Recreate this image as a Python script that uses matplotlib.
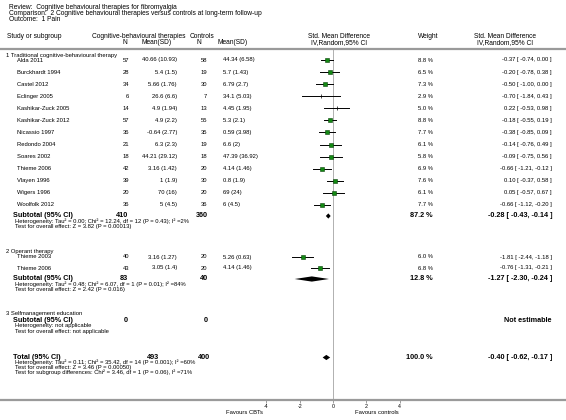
import numpy as np
import matplotlib
matplotlib.use("Agg")
import matplotlib.pyplot as plt

W, H = 566, 420
plt.rcParams['font.family'] = ['Liberation Sans', 'DejaVu Sans']

# %% Daten
review = "Review:  Cognitive behavioural therapies for fibromyalgia"
comparison = "Comparison:  2 Cognitive behavioural therapies versus controls at long-term follow-up"
outcome = "Outcome:  1 Pain"

g1_label = "1 Traditional cognitive-behavioural therapy"
g1_names = ["Alda 2011", "Burckhardt 1994", "Castel 2012", "Eclinger 2005", "Kashikar-Zuck 2005",
            "Kashikar-Zuck 2012", "Nicassio 1997", "Redondo 2004", "Soares 2002", "Thieme 2006",
            "Vlayen 1996", "Wigers 1996", "Woolfolk 2012"]
g1_n1 = [57, 28, 34, 6, 14, 57, 36, 21, 18, 42, 39, 20, 36]
g1_ms1 = ["40.66 (10.93)", "5.4 (1.5)", "5.66 (1.76)", "26.6 (6.6)", "4.9 (1.94)", "4.9 (2.2)",
          "-0.64 (2.77)", "6.3 (2.3)", "44.21 (29.12)", "3.16 (1.42)", "1 (1.9)", "70 (16)", "5 (4.5)"]
g1_n2 = [58, 19, 30, 7, 13, 55, 35, 19, 18, 20, 30, 20, 36]
g1_ms2 = ["44.34 (6.58)", "5.7 (1.43)", "6.79 (2.7)", "34.1 (5.03)", "4.45 (1.95)", "5.3 (2.1)",
          "0.59 (3.98)", "6.6 (2)", "47.39 (36.92)", "4.14 (1.46)", "0.8 (1.9)", "69 (24)", "6 (4.5)"]
g1_w = [8.8, 6.5, 7.3, 2.9, 5.0, 8.8, 7.7, 6.1, 5.8, 6.9, 7.6, 6.1, 7.7]
g1_est = [-0.37, -0.20, -0.50, -0.70, 0.22, -0.18, -0.38, -0.14, -0.09, -0.66, 0.10, 0.05, -0.66]
g1_lo = [-0.74, -0.78, -1.00, -1.84, -0.53, -0.55, -0.85, -0.76, -0.75, -1.21, -0.37, -0.57, -1.12]
g1_hi = [0.00, 0.38, 0.00, 0.43, 0.98, 0.19, 0.09, 0.49, 0.56, -0.12, 0.58, 0.67, -0.20]
g1_sub = (410, 360, 87.2, -0.28, -0.43, -0.14)
g1_het = "Heterogeneity: Tau² = 0.00; Chi² = 12.24, df = 12 (P = 0.43); I² =2%"
g1_test = "Test for overall effect: Z = 3.82 (P = 0.00013)"

g2_label = "2 Operant therapy"
g2_names = ["Thieme 2003", "Thieme 2006"]
g2_n1 = [40, 43]
g2_ms1 = ["3.16 (1.27)", "3.05 (1.4)"]
g2_n2 = [20, 20]
g2_ms2 = ["5.26 (0.63)", "4.14 (1.46)"]
g2_w = [6.0, 6.8]
g2_est = [-1.81, -0.76]
g2_lo = [-2.44, -1.31]
g2_hi = [-1.18, -0.21]
g2_sub = (83, 40, 12.8, -1.27, -2.30, -0.24)
g2_het = "Heterogeneity: Tau² = 0.48; Chi² = 6.07, df = 1 (P = 0.01); I² =84%"
g2_test = "Test for overall effect: Z = 2.42 (P = 0.016)"

g3_label = "3 Selfmanagement education"
g3_het = "Heterogeneity: not applicable"
g3_test = "Test for overall effect: not applicable"

total = (493, 400, 100.0, -0.40, -0.62, -0.17)
total_lines = ["Heterogeneity: Tau² = 0.11; Chi² = 35.42, df = 14 (P = 0.001); I² =60%",
               "Test for overall effect: Z = 3.46 (P = 0.00050)",
               "Test for subgroup differences: Chi² = 3.46, df = 1 (P = 0.06), I² =71%"]
ticks = [-4, -2, 0, 2, 4]

# %% Plot
fig = plt.figure(figsize=(W / 100, H / 100), dpi=100)
FS = 4.2   # Standardschrift
FH = 4.8   # Kopfzeilen
FB = 5.2   # fette Summenzeilen


def txt(x, y, s, ha="left", size=FS, bold=False):
    fig.text(x / W, 1 - y / H, s, ha=ha, va="center", fontsize=size,
             fontweight="bold" if bold else "normal")


x_zero = 333
unit = 16.67
ax = fig.add_axes([0, 1 - 400 / H, 1, (400 - 49) / H])
ax.set_xlim(-x_zero / unit, (W - x_zero) / unit)
ax.set_ylim(400, 49)
for s in ["left", "right"]:
    ax.spines[s].set_visible(False)
for s in ["top", "bottom"]:
    ax.spines[s].set_color("#9a9a9a")
    ax.spines[s].set_linewidth(1.6)
ax.set_yticks([])
ax.set_xticks(ticks)
ax.set_xticklabels([str(t) for t in ticks])
ax.tick_params(axis="x", labelsize=3.8, length=2, width=0.5, color="#777777", pad=1.2)
ax.axvline(0, color="#b0b0b0", lw=0.7, zorder=0)


def fmt_ci(e, l, h):
    return f"{e:.2f} [ {l:.2f}, {h:.2f} ]"


def study(y, name, n1, ms1, n2, ms2, w, e, l, h):
    txt(17, y, name)
    txt(129, y, str(n1), "right")
    txt(177, y, ms1, "right")
    txt(207, y, str(n2), "right")
    txt(223, y, ms2)
    txt(433, y, f"{w:.1f} %", "right")
    txt(552, y, fmt_ci(e, l, h), "right")
    ax.plot([l, h], [y, y], color="black", lw=0.7)
    if w > 5.5:
        ax.plot(e, y, marker="s", ms=1.65 * np.sqrt(w) * 0.72, mfc="#138a13",
                mec="#0b420b", mew=0.4)
    else:
        ax.plot(e, y, marker="|", ms=3, mec="black", mew=0.5)


def diamond(y, e, l, h):
    ax.fill([l, e, h, e], [y, y - 2.6, y, y + 2.6], color="black", lw=0)


def subtotal(y, label, vals, x_n1=128, x_n2=208):
    n1, n2, w, e, l, h = vals
    txt(13, y, label, bold=True, size=FB)
    txt(x_n1, y, str(n1), "right", FB, True)
    txt(x_n2, y, str(n2), "right", FB, True)
    txt(433, y, f"{w:.1f} %", "right", FB, True)
    txt(552, y, fmt_ci(e, l, h), "right", FB, True)
    diamond(y, e, l, h)


# Kopfzeilen
txt(9, 7.5, review, size=FH)
txt(9, 13.5, comparison, size=FH)
txt(9, 19.5, outcome, size=FH)
txt(7, 36, "Study or subgroup", size=FH)
txt(139, 36, "Cognitive-behavioural therapies", "center", FH)
txt(202, 36, "Controls", "center", FH)
txt(339, 36, "Std. Mean Difference", "center", FH)
txt(428, 36, "Weight", "center", FH)
txt(505, 36, "Std. Mean Difference", "center", FH)
txt(125, 42.5, "N", "center", FH)
txt(157, 42.5, "Mean(SD)", "center", FH)
txt(199, 42.5, "N", "center", FH)
txt(233, 42.5, "Mean(SD)", "center", FH)
txt(339, 42.5, "IV,Random,95% CI", "center", FH)
txt(505, 42.5, "IV,Random,95% CI", "center", FH)

# Gruppe 1
txt(6, 55, g1_label)
for i in range(len(g1_names)):
    study(60 + 12.08 * i, g1_names[i], g1_n1[i], g1_ms1[i], g1_n2[i], g1_ms2[i],
          g1_w[i], g1_est[i], g1_lo[i], g1_hi[i])
subtotal(216, "Subtotal (95% CI)", g1_sub)
txt(15, 221.5, g1_het)
txt(15, 226.5, g1_test)

# Gruppe 2
txt(6, 252, g2_label)
for i in range(len(g2_names)):
    study(257 + 11 * i, g2_names[i], g2_n1[i], g2_ms1[i], g2_n2[i], g2_ms2[i],
          g2_w[i], g2_est[i], g2_lo[i], g2_hi[i])
subtotal(279, "Subtotal (95% CI)", g2_sub)
txt(15, 284.5, g2_het)
txt(15, 290, g2_test)

# Gruppe 3
txt(6, 314, g3_label)
txt(13, 320, "Subtotal (95% CI)", bold=True, size=FB)
txt(128, 320, "0", "right", FB, True)
txt(208, 320, "0", "right", FB, True)
txt(552, 320, "Not estimable", "right", FB, True)
txt(15, 326, g3_het)
txt(15, 332, g3_test)

# Gesamt
subtotal(357.5, "Total (95% CI)", total, x_n1=159, x_n2=210)
for k, line in enumerate(total_lines):
    txt(15, 362.5 + 5 * k, line)

txt(245, 412, "Favours CBTs", "center")
txt(377, 412, "Favours controls", "center")

fig.savefig("out.png", dpi=100)
